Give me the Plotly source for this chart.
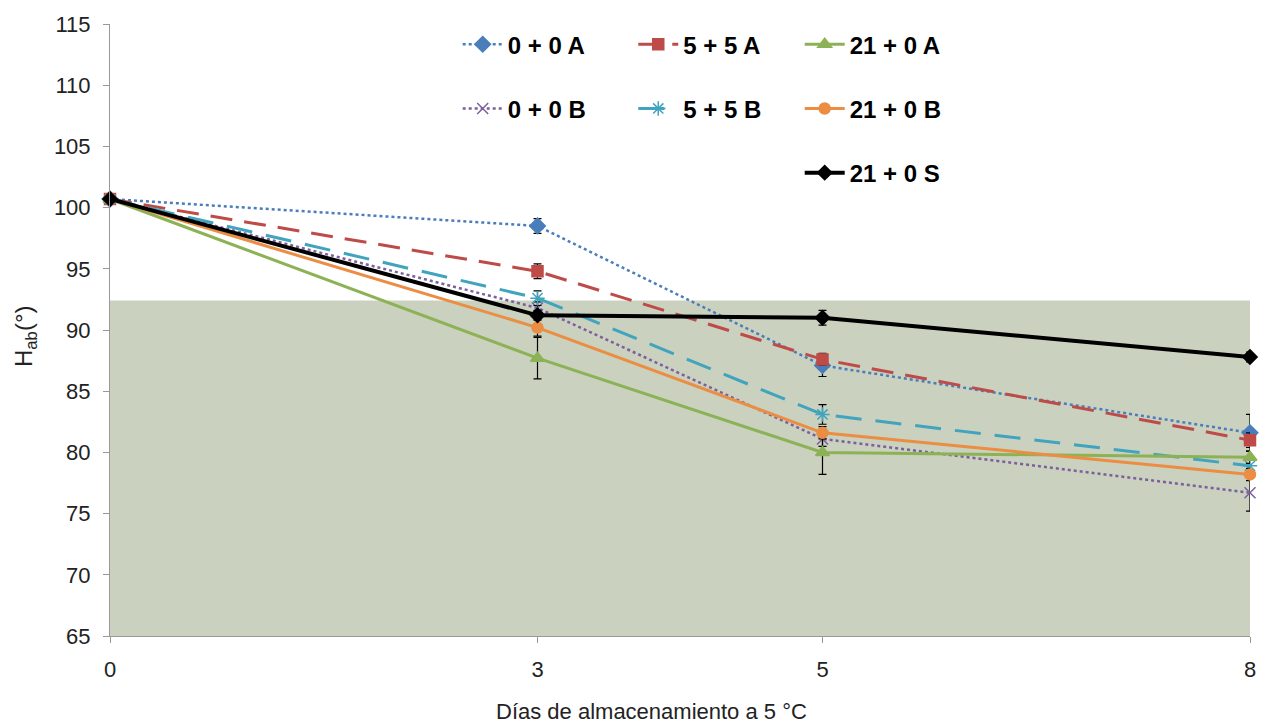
import plotly.graph_objects as go

days = [0, 3, 5, 8]

names = ["0 + 0 A", "5 + 5 A", "21 + 0 A", "0 + 0 B", "5 + 5 B", "21 + 0 B", "21 + 0 S"]
v_00A = [100.7, 98.5, 87.1, 81.6]
v_55A = [100.7, 94.8, 87.6, 81.0]
v_210A = [100.7, 87.7, 80.0, 79.6]
v_00B = [100.7, 91.8, 81.1, 76.7]
v_55B = [100.7, 92.6, 83.1, 78.9]
v_210B = [100.7, 90.2, 81.6, 78.2]
v_210S = [100.7, 91.2, 91.0, 87.8]

e_00A = [0, 0.6, 0.9, 1.5]
e_55A = [0, 0.6, 0.5, 0.6]
e_210A = [0, 1.7, 1.8, 0.5]
e_00B = [0, 0.5, 0.6, 1.5]
e_55B = [0, 0.6, 0.8, 0.6]
e_210B = [0, 0.7, 0.5, 0.5]
e_210S = [0, 0.4, 0.6, 0.4]

band_low, band_high = 65, 92.4

series = [
    (names[0], v_00A, e_00A, "#4A7EBB", "dot", 2.5, "diamond", 12, "legend"),
    (names[3], v_00B, e_00B, "#7D5F9E", "dot", 2.5, "x-thin-open", 11, "legend"),
    (names[1], v_55A, e_55A, "#BE4B48", "22px,12px", 3, "square", 11, "legend2"),
    (names[4], v_55B, e_55B, "#40A4BE", "26px,14px", 3, "asterisk-open", 12, "legend2"),
    (names[2], v_210A, e_210A, "#8DB255", "solid", 3, "triangle-up", 12, "legend3"),
    (names[5], v_210B, e_210B, "#EB8D43", "solid", 3, "circle", 11, "legend3"),
    (names[6], v_210S, e_210S, "#000000", "solid", 4, "diamond", 11, "legend3"),
]

fig = go.Figure()
for i, (nm, vals, errs, col, dash, w, sym, sz, leg) in enumerate(series):
    fig.add_trace(go.Scatter(
        x=days, y=vals, name=nm, mode="lines+markers",
        line=dict(color=col, dash=dash, width=w),
        marker=dict(symbol=sym, size=sz, color=col, line=dict(color=col, width=1.5)),
        error_y=dict(type="data", array=errs, visible=True, color="black", thickness=1.2, width=4),
        legend=leg, legendgroup="g%d" % i, cliponaxis=False,
    ))

fig.add_shape(type="rect", xref="x", yref="y", x0=days[0], x1=days[-1], y0=band_low, y1=band_high,
              fillcolor="#CAD1BF", line=dict(width=0), layer="below")

fig.add_annotation(text="Días de almacenamiento a 5 °C", xref="paper", yref="paper",
                   x=0.4746, y=-0.123, showarrow=False, xanchor="center", yanchor="middle",
                   font=dict(size=22, color="#222"))
fig.add_annotation(text="H<sub>ab</sub>(°)", xref="paper", yref="paper",
                   x=-0.0746, y=0.49, showarrow=False, xanchor="center", yanchor="middle",
                   textangle=-90, font=dict(size=24, color="#222"))

legfont = dict(family="Liberation Sans, Arial, sans-serif", size=24, color="black", weight="bold")
common = dict(bgcolor="rgba(0,0,0,0)", font=legfont, tracegroupgap=30, yanchor="top", xanchor="left",
              itemwidth=40, traceorder="grouped")
fig.update_layout(
    width=1269, height=725,
    margin=dict(l=110, r=19, t=18, b=89),
    paper_bgcolor="white", plot_bgcolor="white",
    font=dict(family="Liberation Sans, Arial, sans-serif", size=22, color="#222"),
    legend=dict(x=0.305, y=1.003, **common),
    legend2=dict(x=0.459, y=1.003, **common),
    legend3=dict(x=0.605, y=1.003, **common),
    xaxis=dict(range=[0, 8], tickmode="array", tickvals=days, ticktext=[str(d) for d in days],
               showgrid=False, zeroline=False, showline=True, linecolor="#999", linewidth=1,
               ticks="outside", ticklen=6, tickcolor="#999", tickfont=dict(size=22),
               ticklabelstandoff=8),
    yaxis=dict(range=[65, 115], tickmode="linear", tick0=65, dtick=5,
               showgrid=False, zeroline=False, showline=True, linecolor="#999", linewidth=1,
               ticks="outside", ticklen=6, tickcolor="#999", tickfont=dict(size=22),
               ticklabelstandoff=8),
)

fig.write_html("out.html")
